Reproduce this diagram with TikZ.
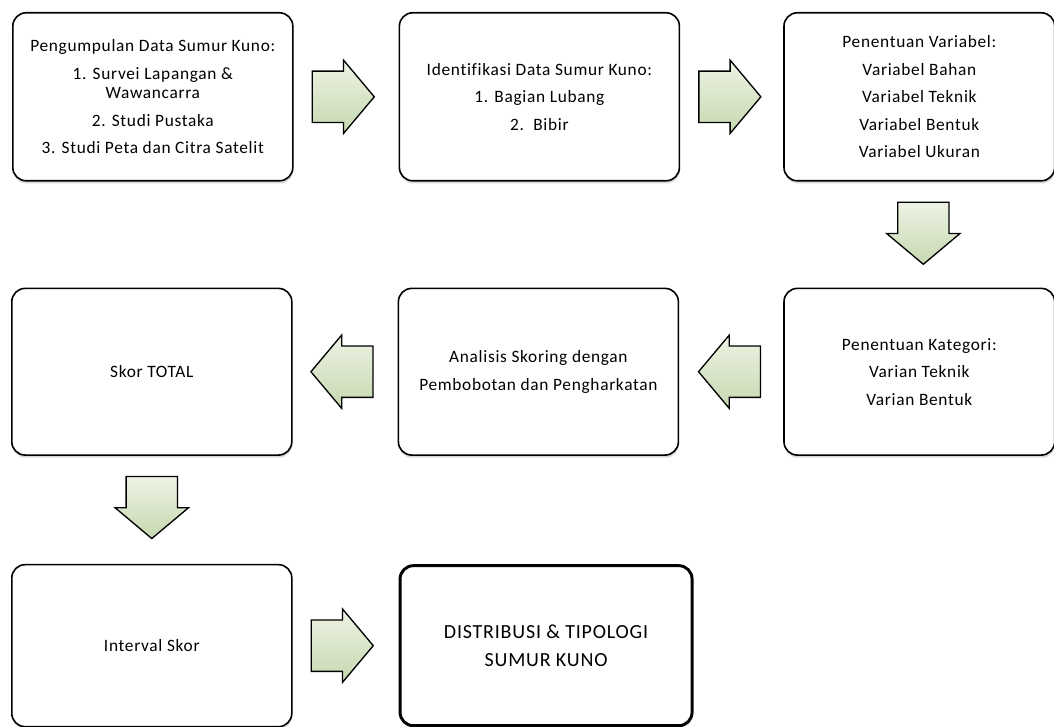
\documentclass[tikz,border=0pt]{standalone}
\usepackage{fontspec}
\setmainfont{Carlito}[LetterSpace=4, Ligatures=NoCommon]
\usetikzlibrary{shapes.arrows,positioning,calc,shadows}
\definecolor{arrowlight}{HTML}{EDF3E4}
\definecolor{arrowdark}{HTML}{C6D8B0}
\tikzstyle{box}=[draw=black, line width=1.2pt, rounded corners=10pt, fill=white, align=center, inner sep=0pt, font=\fontsize{13}{14.25}\selectfont, drop shadow={shadow xshift=0.4pt, shadow yshift=-2pt, opacity=0.3}]
\tikzstyle{bigbox}=[box, line width=2.2pt, font=\fontsize{15}{21}\selectfont]
\tikzstyle{flow}=[single arrow, draw=black, line width=1pt, top color=arrowlight, bottom color=arrowdark, minimum height=46.5pt, inner xsep=0pt, inner ysep=18.75pt, single arrow head extend=8.25pt, single arrow tip angle=100, anchor=tail]

\begin{document}
\begin{tikzpicture}[x=0.75pt, y=-0.75pt, semithick]
    \useasboundingbox (0,0) rectangle (1054,727);
    \node[box, anchor=north west, minimum width=210pt, minimum height=126pt] (data) at (12,12) {Pengumpulan Data Sumur Kuno:\\[6.4pt]1. Survei Lapangan \&\\Wawancarra\\[6.4pt]2. Studi Pustaka\\[6.4pt]3. Studi Peta dan Citra Satelit};
    \node[box, minimum width=210pt, minimum height=126pt] (ident) [right=78.75pt of data] {Identifikasi Data Sumur Kuno:\\[6.4pt]1. Bagian Lubang\\[6.4pt]2.\ \ Bibir};
    \node[box, minimum width=203pt, minimum height=126pt] (variabel) [right=77.25pt of ident] {Penentuan Variabel:\\[6.4pt]Variabel Bahan\\[6.4pt]Variabel Teknik\\[6.4pt]Variabel Bentuk\\[6.4pt]Variabel Ukuran};
    \node[box, minimum width=203pt, minimum height=125pt] (kategori) [below=79.5pt of variabel] {Penentuan Kategori:\\[6.4pt]Varian Teknik\\[6.4pt]Varian Bentuk};
    \node[box, minimum width=210pt, minimum height=125pt] (analisis) [left=78pt of kategori] {Analisis Skoring dengan\\[6.4pt]Pembobotan dan Pengharkatan};
    \node[box, minimum width=210pt, minimum height=125pt] (total) [left=78.75pt of analisis] {Skor TOTAL};
    \node[box, minimum width=210pt, minimum height=121.5pt] (interval) [below=81pt of total] {Interval Skor};
    \node[bigbox, minimum width=219pt, minimum height=120pt] (tipologi) [right=79.5pt of interval] {DISTRIBUSI \& TIPOLOGI\\SUMUR KUNO};

    \node[flow] (a1) at ($(data.east)+(18,0)$) {};
    \node[flow] (a2) at ($(ident.east)+(18,0)$) {};
    \node[flow, rotate=-90] (a3) at ($(variabel.south)+(4,20)$) {};
    \node[flow, rotate=180] (a4) at ($(kategori.west)-(22,0)$) {};
    \node[flow, rotate=180] (a5) at ($(analisis.west)-(24,0)$) {};
    \node[flow, rotate=-90] (a6) at ($(total.south)+(0,20)$) {};
    \node[flow] (a7) at ($(interval.east)+(18,0)$) {};
\end{tikzpicture}
\end{document}
